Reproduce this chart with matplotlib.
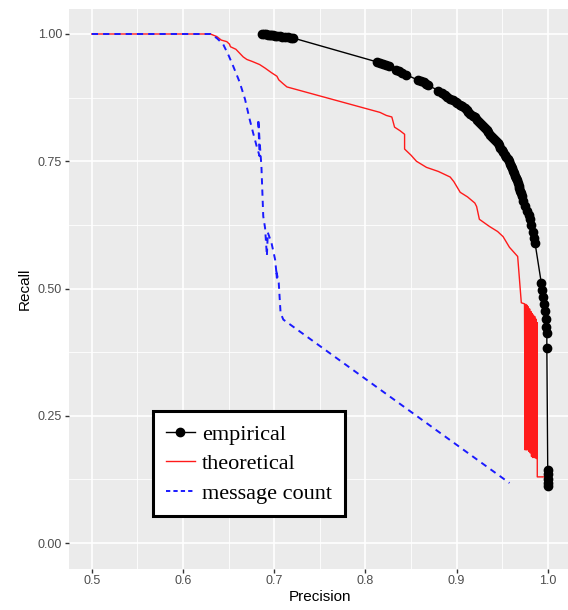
import numpy as np
import matplotlib
matplotlib.use("Agg")
import matplotlib.pyplot as plt
from matplotlib.lines import Line2D

# --- data ---
emp_prec = [0.687, 0.689, 0.691, 0.693, 0.695, 0.697, 0.699, 0.701, 0.703, 0.706,
            0.709, 0.712, 0.715, 0.718, 0.721,
            0.813, 0.816, 0.819, 0.823, 0.826, 0.834, 0.837, 0.840, 0.845,
            0.858, 0.861, 0.864, 0.867, 0.869,
            0.880, 0.884, 0.887, 0.890, 0.893, 0.896, 0.899, 0.901, 0.904, 0.906,
            0.909, 0.911, 0.913, 0.915, 0.918, 0.920, 0.922, 0.925, 0.927, 0.929,
            0.931, 0.933, 0.935, 0.937, 0.939, 0.941, 0.943, 0.945, 0.947, 0.948,
            0.950, 0.951, 0.953, 0.954, 0.956, 0.957, 0.959, 0.960, 0.961, 0.962,
            0.963, 0.964, 0.965, 0.966, 0.967, 0.968, 0.969, 0.970, 0.971, 0.972,
            0.973, 0.975, 0.977, 0.979, 0.981, 0.982, 0.984, 0.985, 0.986,
            0.993, 0.994, 0.995, 0.996, 0.997, 0.998, 0.998, 0.999, 0.999,
            1.000, 1.000, 1.000, 1.000, 1.000]
emp_rec = [1.000, 1.000, 1.000, 0.999, 0.999, 0.998, 0.998, 0.997, 0.997, 0.996,
           0.995, 0.995, 0.994, 0.993, 0.992,
           0.945, 0.943, 0.942, 0.939, 0.937, 0.929, 0.927, 0.924, 0.920,
           0.909, 0.907, 0.905, 0.902, 0.899,
           0.889, 0.884, 0.880, 0.876, 0.873, 0.870, 0.866, 0.864, 0.861, 0.858,
           0.854, 0.850, 0.847, 0.843, 0.839, 0.836, 0.832, 0.828, 0.824, 0.820,
           0.815, 0.811, 0.807, 0.802, 0.798, 0.794, 0.789, 0.785, 0.781, 0.776,
           0.772, 0.768, 0.763, 0.759, 0.754, 0.750, 0.745, 0.740, 0.736, 0.731,
           0.727, 0.722, 0.717, 0.713, 0.708, 0.702, 0.697, 0.692, 0.687, 0.682,
           0.672, 0.662, 0.653, 0.645, 0.636, 0.625, 0.612, 0.600, 0.590,
           0.510, 0.497, 0.484, 0.470, 0.455, 0.440, 0.425, 0.413, 0.384,
           0.144, 0.135, 0.126, 0.118, 0.112]

theo_prec = [0.500, 0.630, 0.637, 0.642, 0.648, 0.651, 0.652, 0.658, 0.666, 0.670,
             0.676, 0.684, 0.690, 0.697, 0.703, 0.705, 0.710, 0.714, 0.816, 0.823,
             0.829, 0.832, 0.838, 0.843, 0.843, 0.850, 0.856, 0.867, 0.880, 0.893,
             0.897, 0.904, 0.912, 0.920, 0.922, 0.925, 0.936, 0.945, 0.951, 0.958,
             0.967, 0.971,
             0.9745, 0.9752, 0.9759, 0.9766, 0.9773, 0.9780, 0.9787, 0.9794, 0.9801,
             0.9808, 0.9815, 0.9822, 0.9829, 0.9836, 0.9843, 0.9850, 0.9857, 0.9864,
             0.9871, 0.9878, 0.9885, 0.9885,
             0.997, 1.000, 1.000]
theo_rec = [1.000, 1.000, 0.995, 0.988, 0.985, 0.980, 0.975, 0.970, 0.955, 0.950,
            0.946, 0.940, 0.933, 0.924, 0.917, 0.910, 0.902, 0.896, 0.846, 0.840,
            0.837, 0.817, 0.810, 0.803, 0.774, 0.762, 0.750, 0.738, 0.730, 0.719,
            0.710, 0.689, 0.680, 0.668, 0.661, 0.636, 0.622, 0.612, 0.602, 0.581,
            0.563, 0.472,
            0.470, 0.183, 0.469, 0.183, 0.467, 0.183, 0.464, 0.180, 0.460,
            0.177, 0.455, 0.170, 0.451, 0.168, 0.448, 0.168, 0.445, 0.167,
            0.440, 0.166, 0.433, 0.130,
            0.130, 0.118, 0.112]

msg_prec = [0.500, 0.630, 0.637, 0.644, 0.650, 0.655, 0.662, 0.668, 0.673, 0.677,
            0.681, 0.684, 0.6825, 0.684, 0.686, 0.688, 0.690, 0.692, 0.693, 0.697,
            0.701, 0.703, 0.702, 0.705, 0.707, 0.710, 0.958]
msg_rec = [1.000, 1.000, 0.992, 0.980, 0.958, 0.937, 0.906, 0.872, 0.833, 0.805,
           0.778, 0.760, 0.833, 0.790, 0.740, 0.642, 0.619, 0.564, 0.610, 0.590,
           0.557, 0.521, 0.537, 0.511, 0.452, 0.439, 0.118]

x_ticks = [0.5, 0.6, 0.7, 0.8, 0.9, 1.0]
x_ticklabels = ["0.5", "0.6", "0.7", "0.8", "0.9", "1.0"]
y_ticks = [0.0, 0.25, 0.5, 0.75, 1.0]
y_ticklabels = ["0.00", "0.25", "0.50", "0.75", "1.00"]

### Figure

plt.rcParams['font.family'] = ['Liberation Sans', 'DejaVu Sans']

fig = plt.figure(figsize=(5.68, 6.10), dpi=100)
ax = fig.add_axes([0.1215, 0.068, 0.883, 0.918])
ax.set_facecolor('#EBEBEB')
for sp in ax.spines.values():
    sp.set_visible(False)

ax.set_xlim(0.475, 1.025)
ax.set_ylim(-0.05, 1.05)
ax.set_xticks(x_ticks)
ax.set_xticklabels(x_ticklabels)
ax.set_yticks(y_ticks)
ax.set_yticklabels(y_ticklabels)
ax.set_xticks([0.55, 0.65, 0.75, 0.85, 0.95], minor=True)
ax.set_yticks([0.125, 0.375, 0.625, 0.875], minor=True)
ax.tick_params(which='major', length=3, width=1, color='#333333',
               labelcolor='#4D4D4D', labelsize=9, pad=2)
ax.tick_params(which='minor', length=0)
ax.grid(which='major', color='white', linewidth=1.2)
ax.grid(which='minor', color='white', linewidth=0.6)
ax.set_axisbelow(True)

ax.plot(theo_prec, theo_rec, color='#FF1A1A', linewidth=1.0, zorder=3)
ax.plot(msg_prec, msg_rec, color='#1A1AFF', linewidth=1.4,
        linestyle=(0, (3.2, 2.6)), zorder=4)
ax.plot(emp_prec, emp_rec, color='black', linewidth=1.0, marker='o',
        markersize=6, zorder=5)

ax.set_xlabel('Precision', fontsize=11, labelpad=2)
ax.set_ylabel('Recall', fontsize=11, labelpad=4)

handles = [
    Line2D([], [], color='black', linewidth=1.0, marker='o', markersize=6),
    Line2D([], [], color='#FF1A1A', linewidth=1.0),
    Line2D([], [], color='#1A1AFF', linewidth=1.4, linestyle=(0, (2.2, 1.6))),
]
leg = ax.legend(handles, ['empirical', 'theoretical', 'message count'],
                loc='lower left', bbox_to_anchor=(0.167, 0.093),
                borderaxespad=0, fancybox=False, framealpha=1,
                edgecolor='black', facecolor='white',
                prop={'family': ['Liberation Serif'], 'size': 16},
                handlelength=1.3, handletextpad=0.35, labelspacing=0.4,
                borderpad=0.58)
leg.get_frame().set_linewidth(2.2)
leg.set_zorder(10)

fig.savefig('out.png', dpi=100)
